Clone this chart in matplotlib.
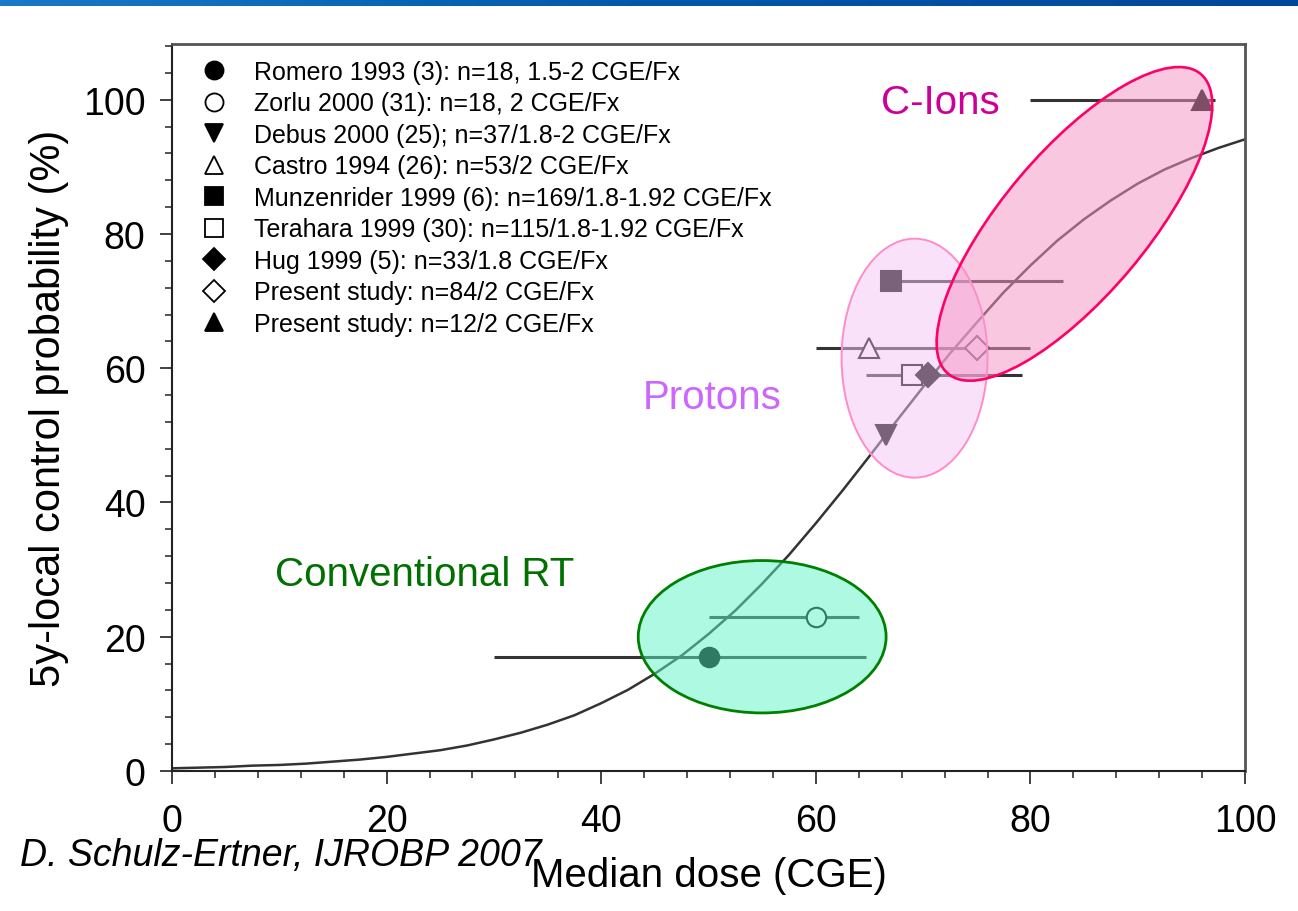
import matplotlib
matplotlib.use("Agg")
import matplotlib.pyplot as plt
import numpy as np
from matplotlib.lines import Line2D
from matplotlib.patches import Ellipse
from matplotlib.transforms import ScaledTranslation
from matplotlib.ticker import MultipleLocator
from matplotlib.colors import LinearSegmentedColormap

plt.rcParams['font.family'] = ['Liberation Sans', 'DejaVu Sans']

# dose-response curve
curve_dose = [0, 2.5, 5, 7.5, 10, 12.5, 15, 17.5, 20, 22.5, 25, 27.5, 30, 32.5,
              35, 37.5, 40, 42.5, 45, 47.5, 50, 52.5, 55, 57.5, 60, 62.5, 65,
              67.5, 70, 72.5, 75, 77.5, 80, 82.5, 85, 87.5, 90, 92.5, 95, 97.5, 100]
curve_lcp = [0.4, 0.5, 0.6, 0.8, 0.9, 1.1, 1.4, 1.7, 2.1, 2.6, 3.1, 3.8, 4.7, 5.7,
             6.9, 8.3, 10.1, 12.1, 14.5, 17.2, 20.4, 23.9, 27.9, 32.2, 36.9, 41.8, 46.9,
             52.1, 57.2, 62.2, 66.8, 71.3, 75.3, 79.0, 82.2, 85.0, 87.5, 89.6, 91.3, 92.8, 94.1]

# studies
labels = ["Romero 1993 (3): n=18, 1.5-2 CGE/Fx",
          "Zorlu 2000 (31): n=18, 2 CGE/Fx",
          "Debus 2000 (25); n=37/1.8-2 CGE/Fx",
          "Castro 1994 (26): n=53/2 CGE/Fx",
          "Munzenrider 1999 (6): n=169/1.8-1.92 CGE/Fx",
          "Terahara 1999 (30): n=115/1.8-1.92 CGE/Fx",
          "Hug 1999 (5): n=33/1.8 CGE/Fx",
          "Present study: n=84/2 CGE/Fx",
          "Present study: n=12/2 CGE/Fx"]
markers = ['o', 'o', 'v', '^', 's', 's', 'D', 'D', '^']
filled = [True, False, True, False, True, False, True, False, True]
dose = [50, 60, 66.5, 65, 67, 69, 70.5, 75, 96]
lcp = [17, 23, 50, 63, 73, 59, 59, 63, 100]
dose_lo = [30, 50, None, None, 67, 64.7, None, 60, 80]
dose_hi = [64.7, 64, None, None, 83, 79.2, None, 80, 97.2]

# highlighted groups
group_names = ["Conventional RT", "Protons", "C-Ions"]
group_colors = ["#007000", "#cc66ff", "#cc0099"]
group_text_x = [23.5, 50.3, 71.6]
group_text_y = [29.4, 55.7, 99.7]

fig = plt.figure(figsize=(12.98, 9.12), dpi=100)
ax = fig.add_axes([0.1325, 0.1535, 0.8267, 0.7972])
ax.set_xlim(0, 100)
ax.set_ylim(0, 108.3)

ax.plot(curve_dose, curve_lcp, color='#333333', lw=1.8, zorder=1)

for lo, hi, y in zip(dose_lo, dose_hi, lcp):
    if lo is not None:
        ax.hlines(y, lo, hi, color='#333333', lw=2.2, zorder=2)

for x, y, m, f in zip(dose, lcp, markers, filled):
    ax.plot(x, y, marker=m, ls='none', ms=14 if m != 'D' else 12,
            mfc='black' if f else 'white', mec='black', mew=1.5, zorder=3)

# ellipses over the groups
ax.add_patch(Ellipse((55.0, 20.0), 23.1, 22.7, facecolor=(0.37, 0.96, 0.77, 0.5),
                     edgecolor='#008000', lw=2.0, zorder=4))
ax.add_patch(Ellipse((69.2, 61.5), 13.6, 35.6, facecolor=(0.96, 0.78, 0.96, 0.5),
                     edgecolor='#ff8cc8', lw=1.4, zorder=4))
ax.add_patch(Ellipse((0, 0), 3.92, 1.44, angle=49.85,
                     facecolor=(0.97, 0.58, 0.78, 0.52), edgecolor='#ff0066', lw=1.9,
                     transform=fig.dpi_scale_trans + ScaledTranslation(84.1, 81.5, ax.transData),
                     zorder=4))

for name, c, tx, ty in zip(group_names, group_colors, group_text_x, group_text_y):
    ax.text(tx, ty, name, color=c, fontsize=29, ha='center', va='center', zorder=6)

handles = [Line2D([], [], marker=m, ls='none', ms=13 if m != 'D' else 11,
                  mfc='black' if f else 'white', mec='black', mew=1.3)
           for m, f in zip(markers, filled)]
ax.legend(handles, labels, loc='upper left', bbox_to_anchor=(0.026, 0.978),
          frameon=False, fontsize=18, borderpad=0, borderaxespad=0,
          handlelength=1.15, handletextpad=1.0, labelspacing=0.3)

ax.xaxis.set_major_locator(MultipleLocator(20))
ax.xaxis.set_minor_locator(MultipleLocator(4))
ax.yaxis.set_major_locator(MultipleLocator(20))
ax.yaxis.set_minor_locator(MultipleLocator(4))
ax.tick_params(which='major', length=9, width=1.3, color='#333333', labelsize=27)
ax.tick_params(which='minor', length=5, width=1.2, color='#333333')
ax.tick_params(axis='x', pad=14)
ax.tick_params(axis='y', pad=10)
for s in ['left', 'bottom']:
    ax.spines[s].set_color('#222222')
    ax.spines[s].set_linewidth(1.5)
for s in ['top', 'right']:
    ax.spines[s].set_color('#555555')
    ax.spines[s].set_linewidth(2.0)

ax.set_xlabel("Median dose (CGE)", fontsize=29, labelpad=12)
ax.set_ylabel("5y-local control probability (%)", fontsize=30, labelpad=10)

fig.text(20 / 1298, 1 - 856 / 912, "D. Schulz-Ertner, IJROBP 2007", fontsize=27,
         style='italic', ha='left', va='center')

# blue header strip
bar = fig.add_axes([0, 1 - 7 / 912, 1, 7 / 912])
grad = np.linspace(0, 1, 256).reshape(1, -1)
cmap = LinearSegmentedColormap.from_list('hdr', ['#1a78c8', '#0058aa', '#00469a'])
bar.imshow(grad, aspect='auto', cmap=cmap)
bar.set_axis_off()

fig.savefig("out.png", dpi=100)
